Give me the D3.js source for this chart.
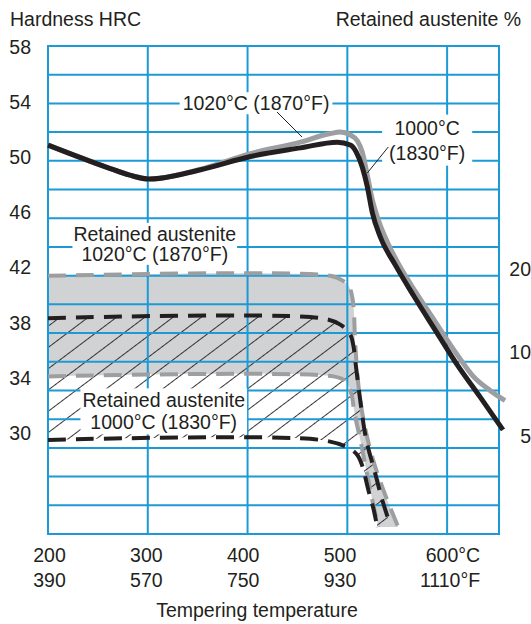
<!DOCTYPE html>
<html>
<head>
<meta charset="utf-8">
<script src="https://cdn.jsdelivr.net/npm/d3@7"></script>
<style>
  body { margin: 0; background: #fff; }
  svg text { font-family: "Liberation Sans", Arial, Helvetica, sans-serif; font-size: 19.5px; fill: #231f20; }
</style>
</head>
<body>
<svg width="531" height="624"></svg>
<script>
// Hardness after tempering, [temperature °C, HRC]
const hard1000 = [[200,51.1],[259,49.55],[282,49.0],[302,48.73],[352,49.36],[403,50.3],[453,50.9],[490,51.3],
    [503,51.1],[509,50.6],[515,49.55],[520,48.2],[525,46.4],[533,44.7],[548,42.75],[566,40.65],[590,38.0],
    [610,35.8],[633,33.55],[656,31.25]];
const hard1020 = [[200,51.1],[259,49.55],[282,49.0],[302,48.73],[352,49.4],[403,50.5],[453,51.3],[483,51.9],
    [493,52.0],[503,51.8],[510,51.4],[515,50.6],[520,49.0],[525,47.3],[531,45.9],[541,44.2],[553,42.6],[569,40.8],
    [588,38.8],[610,36.5],[626,35.0],[643,34.0],[658,33.3]];

// Retained austenite bands, [temperature °C, %]
const ra1020Max = [[200,18.9],[483,18.9],[495,18.2],[502,17.2],[505,15.8],[506.5,14.2],[508,10.6],[513,6.7],[523,4.45],[536,3.2],[551,2.35]];
const ra1020Min = [[200,8.2],[486,8.2],[498,7.9],[504,7.1],[507,6.1],[513,4.84],[519,3.77],[525,2.94],[531,2.35]];
const ra1000Max = [[200,13.3],[473,13.3],[493,12.6],[503,11.6],[506,10.6],[509,8.7],[513,6.7],[519,4.84],[527,3.77],[535,2.94],[543,2.39]];
const ra1000Min = [[200,4.84],[473,4.84],[501,4.53],[510,4.27],[515,3.9],[521,3.2],[526,2.75],[530,2.35]];

const hrcTicks = [58, 54, 50, 46, 42, 38, 34, 30];
const raTicks = [20, 10, 5];
const tempTicks = [200, 300, 400, 500, 600];
const labelsC = ["200", "300", "400", "500", "600°C"];
const labelsF = ["390", "570", "750", "930", "1110°F"];

const svg = d3.select("svg");
const GRID = "#1b9ad6", INK = "#231f20";

const x = d3.scaleLinear().domain([200, 652]).range([48, 499]);
const y = d3.scaleLinear().domain([24, 58]).range([534, 46]);
// printed numbers sit on a slightly tighter spacing than the grid
const yLabel = d3.scaleLinear().domain([30, 58]).range([433, 47]);
const xLabel = d3.scaleLinear().domain([200, 500]).range([49.5, 340]);
const yRA = d3.scaleLog().domain([5, 20]).range([436, 269]);

const lineH = d3.line().x(d => x(d[0])).y(d => y(d[1])).curve(d3.curveMonotoneX);
const lineRA = d3.line().x(d => x(d[0])).y(d => yRA(d[1])).curve(d3.curveCatmullRom.alpha(0.5));

function bandPath(top, bottom) {
    return lineRA(top) + "L" + lineRA(bottom.slice().reverse()).slice(1) + "Z";
}

// hatch pattern for the 1000°C band
svg.append("defs").append("pattern")
    .attr("id", "hatch")
    .attr("patternUnits", "userSpaceOnUse")
    .attr("width", 10).attr("height", 17)
    .attr("patternTransform", "rotate(-37)")
    .append("line")
    .attr("x1", 0).attr("x2", 10).attr("y1", 0.5).attr("y2", 0.5)
    .attr("stroke", INK).attr("stroke-width", 0.9);

svg.append("path").attr("d", bandPath(ra1020Max, ra1020Min)).attr("fill", "#d1d2d4");
svg.append("path").attr("d", bandPath(ra1000Max, ra1000Min)).attr("fill", "url(#hatch)");

// grid
const grid = svg.append("g").attr("stroke", GRID).attr("stroke-width", 2);
grid.selectAll(".h").data(d3.range(26, 58, 2)).join("line")
    .attr("x1", x(200)).attr("x2", x(652))
    .attr("y1", d => y(d)).attr("y2", d => y(d));
grid.selectAll(".v").data(tempTicks.slice(1)).join("line")
    .attr("x1", d => x(d)).attr("x2", d => x(d))
    .attr("y1", y(58)).attr("y2", y(24));
grid.append("rect")
    .attr("x", x(200)).attr("y", y(58))
    .attr("width", x(652) - x(200)).attr("height", y(24) - y(58))
    .attr("fill", "none");

// band edges
[[ra1020Max, "#9d9ea0"], [ra1020Min, "#9d9ea0"], [ra1000Max, INK], [ra1000Min, INK]].forEach(([d, c]) => {
    svg.append("path").attr("d", lineRA(d))
        .attr("fill", "none").attr("stroke", c)
        .attr("stroke-width", 4).attr("stroke-dasharray", "18,10");
});

// hardness curves
svg.append("path").attr("d", lineH(hard1020))
    .attr("fill", "none").attr("stroke", "#9c9ea1").attr("stroke-width", 5);
svg.append("path").attr("d", lineH(hard1000))
    .attr("fill", "none").attr("stroke", INK).attr("stroke-width", 5);

// notes with white boxes
function note(lines, tx, hy, lh, padX, padY) {
    const g = svg.append("g");
    const box = g.append("rect").attr("fill", "#fff");
    const t = g.append("text").attr("text-anchor", "middle");
    lines.forEach((s, i) => {
        t.append("tspan").attr("x", x(tx)).attr("y", y(hy) + i * lh).attr("dy", "0.35em").text(s);
    });
    const b = t.node().getBBox();
    box.attr("x", b.x - padX).attr("y", b.y - padY)
        .attr("width", b.width + 2 * padX).attr("height", b.height + 2 * padY);
}
note(["1020°C (1870°F)"], 408.5, 54, 0, 3, 0);
note(["1000°C", "(1830°F)"], 580, 52.3, 25, 7, 2);
note(["Retained austenite", "1020°C (1870°F)"], 307, 44.9, 20, 1, 0);
note(["Retained austenite", "1000°C (1830°F)"], 316, 33.3, 22, 2, 1);

// leader lines
[[[429.5, 53.4], [454.6, 51.66]], [[541, 50.96], [520, 49.15]]].forEach(p => {
    svg.append("line")
        .attr("x1", x(p[0][0])).attr("y1", y(p[0][1]))
        .attr("x2", x(p[1][0])).attr("y2", y(p[1][1]))
        .attr("stroke", INK).attr("stroke-width", 1);
});

// axes labels
svg.append("text").attr("x", 10).attr("y", 26).text("Hardness HRC");
svg.append("text").attr("x", 521).attr("y", 26).attr("text-anchor", "end").text("Retained austenite %");

svg.selectAll(".hrc").data(hrcTicks).join("text")
    .attr("x", 31).attr("y", d => yLabel(d)).attr("dy", "0.35em")
    .attr("text-anchor", "end").text(d => d);

svg.selectAll(".ra").data(raTicks).join("text")
    .attr("x", 531).attr("y", d => yRA(d)).attr("dy", "0.35em")
    .attr("text-anchor", "end").text(d => d);

[[labelsC, 562], [labelsF, 587]].forEach(([labels, by]) => {
    svg.append("g").selectAll("text").data(tempTicks).join("text")
        .attr("x", (d, i) => i < 4 ? xLabel(d) : x(d) + 33)
        .attr("y", by)
        .attr("text-anchor", (d, i) => i < 4 ? "middle" : "end")
        .text((d, i) => labels[i]);
});

svg.append("text").attr("x", 257).attr("y", 617).attr("text-anchor", "middle").text("Tempering temperature");
</script>
</body>
</html>
